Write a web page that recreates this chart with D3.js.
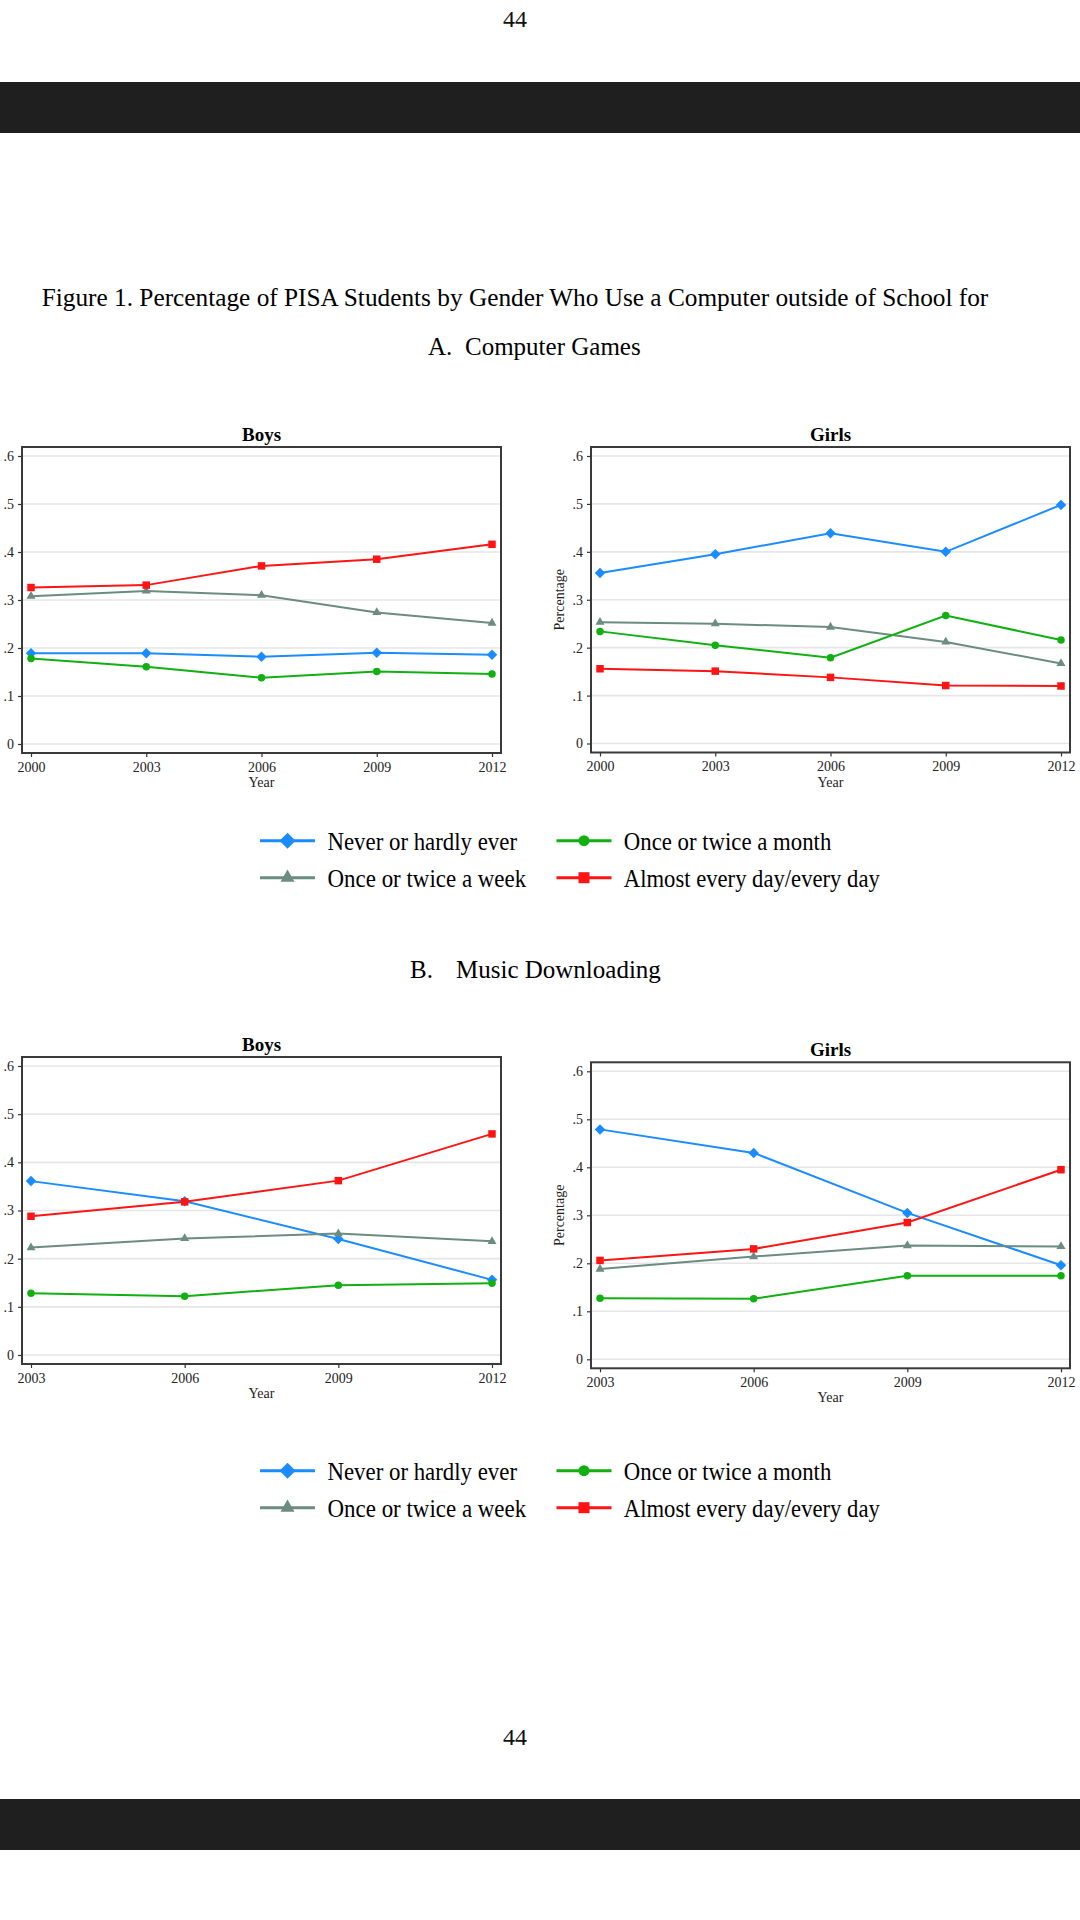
<!DOCTYPE html>
<html>
<head>
<meta charset="utf-8">
<title>PISA computer use by gender</title>
<script src="https://cdn.jsdelivr.net/npm/d3@7"></script>
<style>
  html, body { margin: 0; padding: 0; background: #fff; }
  svg { display: block; font-family: "Liberation Serif", "Times New Roman", serif; }
</style>
</head>
<body>
<div id="page"></div>
<script>
// ---- data ----
var gamesYears = [2000, 2003, 2006, 2009, 2012];
var musicYears = [2003, 2006, 2009, 2012];
var seriesNames = ["Never or hardly ever", "Once or twice a week", "Once or twice a month", "Almost every day/every day"];
var yTicks = [0, 0.1, 0.2, 0.3, 0.4, 0.5, 0.6];
var yTickLabels = ["0", ".1", ".2", ".3", ".4", ".5", ".6"];

// rows: never, week, month, daily
var gamesBoys = [
  [0.189, 0.189, 0.182, 0.190, 0.186],
  [0.308, 0.319, 0.310, 0.274, 0.252],
  [0.178, 0.161, 0.138, 0.151, 0.146],
  [0.326, 0.331, 0.371, 0.385, 0.416]
];
var gamesGirls = [
  [0.356, 0.395, 0.439, 0.400, 0.498],
  [0.253, 0.250, 0.243, 0.212, 0.167],
  [0.234, 0.205, 0.179, 0.267, 0.216],
  [0.156, 0.151, 0.138, 0.121, 0.120]
];
var musicBoys = [
  [0.361, 0.319, 0.241, 0.156],
  [0.223, 0.242, 0.252, 0.236],
  [0.128, 0.122, 0.145, 0.149],
  [0.288, 0.318, 0.362, 0.459]
];
var musicGirls = [
  [0.479, 0.430, 0.305, 0.196],
  [0.188, 0.214, 0.237, 0.235],
  [0.127, 0.126, 0.174, 0.174],
  [0.206, 0.230, 0.285, 0.395]
];

// ---- styles ----
var colors = ["#1a8cff", "#6b8c80", "#10b010", "#ff1414"];
var symbols = ["diamond", "triangle", "circle", "square"];

var W = 1080, H = 1920;
var svg = d3.select("#page").append("svg")
  .attr("width", W).attr("height", H);

function marker(sel, kind, size) {
  // size = rough width in px
  var p;
  if (kind === "diamond") {
    p = d3.symbol(d3.symbolSquare, size * size / 2)();
    return sel.append("path").attr("d", p).attr("transform", "rotate(45)");
  }
  if (kind === "square") p = d3.symbol(d3.symbolSquare, size * size)();
  if (kind === "circle") p = d3.symbol(d3.symbolCircle, Math.PI * size * size / 4)();
  if (kind === "triangle") p = d3.symbol(d3.symbolTriangle, Math.sqrt(3) / 4 * size * size)();
  return sel.append("path").attr("d", p);
}

// page furniture
svg.append("rect").attr("x", 0).attr("y", 82).attr("width", W).attr("height", 51).attr("fill", "#1f1f1f");
svg.append("rect").attr("x", 0).attr("y", 1799).attr("width", W).attr("height", 51).attr("fill", "#1f1f1f");
[27, 1745].forEach(function (y) {
  svg.append("text").attr("x", 515).attr("y", y).attr("text-anchor", "middle")
    .attr("font-size", 24).attr("fill", "#111").text("44");
});

svg.append("text").attr("x", 515).attr("y", 306).attr("text-anchor", "middle")
  .attr("font-size", 25.3).attr("fill", "#000")
  .text("Figure 1. Percentage of PISA Students by Gender Who Use a Computer outside of School for");
svg.append("text").attr("x", 428).attr("y", 355).attr("font-size", 25).attr("fill", "#000").text("A.");
svg.append("text").attr("x", 465).attr("y", 355).attr("font-size", 25).attr("fill", "#000").text("Computer Games");
svg.append("text").attr("x", 410).attr("y", 978).attr("font-size", 25).attr("fill", "#000").text("B.");
svg.append("text").attr("x", 456).attr("y", 978).attr("font-size", 25).attr("fill", "#000").text("Music Downloading");

function drawPanel(box, title, titleY, years, values, showYLabel) {
  var g = svg.append("g");
  var pad = 9;
  var x = d3.scaleLinear().domain(d3.extent(years)).range([box.x0 + pad, box.x1 - pad]);
  var y = d3.scaleLinear().domain([0, 0.6]).range([box.y1 - pad, box.y0 + pad]);

  // grid
  g.append("g").selectAll("line").data(yTicks).enter().append("line")
    .attr("x1", box.x0).attr("x2", box.x1)
    .attr("y1", function (d) { return y(d); }).attr("y2", function (d) { return y(d); })
    .attr("stroke", "#e6e6e6").attr("stroke-width", 1.6);

  // y axis
  var yAxis = d3.axisLeft(y).tickValues(yTicks).tickSize(4).tickPadding(4)
    .tickFormat(function (d, i) { return yTickLabels[i]; });
  var ya = g.append("g").attr("transform", "translate(" + box.x0 + ",0)").call(yAxis);
  ya.select(".domain").remove();
  ya.selectAll("line").attr("stroke", "#333").attr("stroke-width", 1.2);
  ya.selectAll("text").attr("font-size", 14).attr("fill", "#222")
    .attr("font-family", "Liberation Serif, serif");

  // x axis
  var xAxis = d3.axisBottom(x).tickValues(years).tickSize(4).tickPadding(5)
    .tickFormat(d3.format("d"));
  var xa = g.append("g").attr("transform", "translate(0," + box.y1 + ")").call(xAxis);
  xa.select(".domain").remove();
  xa.selectAll("line").attr("stroke", "#333").attr("stroke-width", 1.2);
  xa.selectAll("text").attr("font-size", 14).attr("fill", "#222")
    .attr("font-family", "Liberation Serif, serif");

  // frame
  g.append("rect").attr("x", box.x0).attr("y", box.y0)
    .attr("width", box.x1 - box.x0).attr("height", box.y1 - box.y0)
    .attr("fill", "none").attr("stroke", "#3a3a3a").attr("stroke-width", 2);

  // titles
  g.append("text").attr("x", (box.x0 + box.x1) / 2).attr("y", titleY)
    .attr("text-anchor", "middle").attr("font-size", 19).attr("font-weight", "bold")
    .attr("fill", "#000").text(title);
  g.append("text").attr("x", (box.x0 + box.x1) / 2).attr("y", box.y1 + 34)
    .attr("text-anchor", "middle").attr("font-size", 14).attr("fill", "#222").text("Year");
  if (showYLabel) {
    g.append("text")
      .attr("transform", "translate(" + (box.x0 - 27) + "," + ((box.y0 + box.y1) / 2) + ") rotate(-90)")
      .attr("text-anchor", "middle").attr("font-size", 14).attr("fill", "#222").text("Percentage");
  }

  var line = d3.line()
    .x(function (d, i) { return x(years[i]); })
    .y(function (d) { return y(d); });

  values.forEach(function (vals, s) {
    g.append("path").datum(vals).attr("d", line)
      .attr("fill", "none").attr("stroke", colors[s]).attr("stroke-width", 2);
    vals.forEach(function (v, i) {
      var mg = g.append("g").attr("transform", "translate(" + x(years[i]) + "," + y(v) + ")");
      var sz = symbols[s] === "diamond" ? 10.5 : (symbols[s] === "triangle" ? 9 : 7.5);
      marker(mg, symbols[s], sz).attr("fill", colors[s]);
    });
  });
}

function drawLegend(y1, y2) {
  var cols = [{ lx: 260, tx: 327.5 }, { lx: 556.5, tx: 623.8 }];
  var order = [
    { s: 0, col: 0, y: y1, w: 189.5 },
    { s: 2, col: 1, y: y1, w: 207.5 },
    { s: 1, col: 0, y: y2, w: 198.7 },
    { s: 3, col: 1, y: y2, w: 256 }
  ];
  order.forEach(function (o) {
    var c = cols[o.col];
    svg.append("line").attr("x1", c.lx).attr("x2", c.lx + 55)
      .attr("y1", o.y).attr("y2", o.y)
      .attr("stroke", colors[o.s]).attr("stroke-width", 3);
    var mg = svg.append("g").attr("transform", "translate(" + (c.lx + 27.5) + "," + o.y + ")");
    var sz = symbols[o.s] === "diamond" ? 16 : (symbols[o.s] === "triangle" ? 14 : 11);
    marker(mg, symbols[o.s], sz).attr("fill", colors[o.s]);
    svg.append("text").attr("x", c.tx).attr("y", o.y + 9)
      .attr("font-size", 26).attr("fill", "#000")
      .attr("textLength", o.w).attr("lengthAdjust", "spacingAndGlyphs")
      .text(seriesNames[o.s]);
  });
}

drawPanel({ x0: 22, x1: 501, y0: 447, y1: 753 }, "Boys", 440.5, gamesYears, gamesBoys, false);
drawPanel({ x0: 591, x1: 1070, y0: 447, y1: 752.5 }, "Girls", 440.5, gamesYears, gamesGirls, true);
drawLegend(840.7, 877.7);

drawPanel({ x0: 22, x1: 501, y0: 1057, y1: 1364 }, "Boys", 1051, musicYears, musicBoys, false);
drawPanel({ x0: 591, x1: 1070, y0: 1062.3, y1: 1368.3 }, "Girls", 1056, musicYears, musicGirls, true);
drawLegend(1470.7, 1507.7);
</script>
</body>
</html>
